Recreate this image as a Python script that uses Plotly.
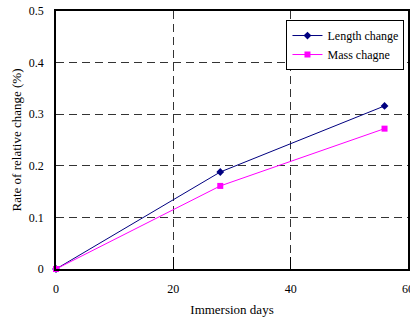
import plotly.graph_objects as go

days = [0, 28, 56]
length_change = [0, 0.188, 0.316]
mass_change = [0, 0.161, 0.272]
x_ticks = [0, 20, 40, 60]
y_ticks = [0, 0.1, 0.2, 0.3, 0.4, 0.5]

font = "Liberation Serif"

fig = go.Figure()
fig.add_trace(go.Scatter(x=days, y=length_change, mode="lines+markers", name="Length change",
                         line=dict(color="#000080", width=1),
                         marker=dict(symbol="diamond", size=6, color="#000080"),
                         cliponaxis=False))
fig.add_trace(go.Scatter(x=days, y=mass_change, mode="lines+markers", name="Mass chagne",
                         line=dict(color="#FF00FF", width=1),
                         marker=dict(symbol="square", size=6, color="#FF00FF"),
                         cliponaxis=False))

fig.update_layout(
    width=410, height=322,
    margin=dict(l=56, r=2, t=11, b=53, autoexpand=False),
    plot_bgcolor="white", paper_bgcolor="white",
    font=dict(family=font, size=12, color="black"),
    showlegend=True,
    legend=dict(x=0.99, y=0.965, xanchor="right", yanchor="top",
                bordercolor="black", borderwidth=1, bgcolor="white",
                font=dict(family=font, size=12), tracegroupgap=0,
                itemwidth=30),
    xaxis=dict(range=[0, 60], tickvals=x_ticks, ticks="inside", ticklen=12, tickcolor="black",
               showline=True, linecolor="black", linewidth=1.5, mirror=True,
               showgrid=True, gridcolor="#333333", griddash="8px,5px", gridwidth=1,
               zeroline=False, ticklabelstandoff=8, automargin=False, ticklabeloverflow="allow",
               title=dict(text="Immersion days", font=dict(family=font, size=13), standoff=10)),
    yaxis=dict(range=[0, 0.5], tickvals=y_ticks, ticktext=["0", "0.1", "0.2", "0.3", "0.4", "0.5"],
               ticks="", showline=True, linecolor="black", linewidth=1.5, mirror=True,
               showgrid=True, gridcolor="#333333", griddash="8px,5px", gridwidth=1,
               zeroline=False, ticklabelstandoff=8, automargin=False, ticklabeloverflow="allow",
               title=dict(text="Rate of relative change (%)", font=dict(family=font, size=13), standoff=4)),
)

fig.write_html("out.html", config={"displayModeBar": False})
with open("out.html", encoding="utf-8") as f:
    html = f.read()
html = html.replace("<head>", "<head><style>html,body{margin:0;padding:0;overflow:hidden;}</style>", 1)
with open("out.html", "w", encoding="utf-8") as f:
    f.write(html)
